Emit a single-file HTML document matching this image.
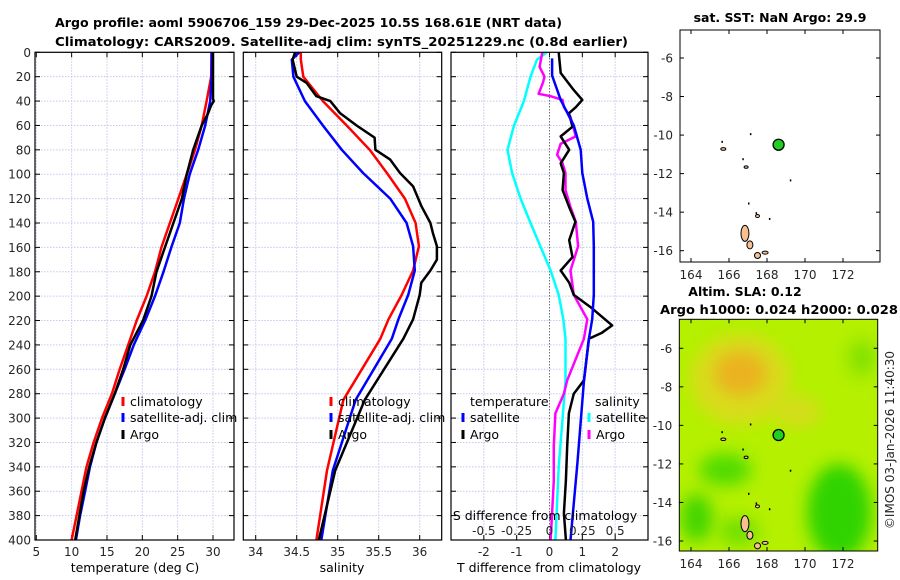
<!DOCTYPE html>
<html><head><meta charset="utf-8">
<style>
html,body{margin:0;padding:0;background:#fff;}
svg{display:block;font-family:"DejaVu Sans","Liberation Sans",sans-serif;}
.t{font-size:12.5px;font-weight:bold;fill:#000;}
.tk{font-size:12px;fill:#262626;}
.lg{font-size:12.5px;fill:#000;}
</style></head>
<body>
<svg id="chart" width="900" height="580" viewBox="0 0 900 580">
<g id="titles">
<text class="t" x="55" y="27" textLength="507" lengthAdjust="spacingAndGlyphs">Argo profile: aoml 5906706_159 29-Dec-2025 10.5S 168.61E (NRT data)</text>
<text class="t" x="55" y="46" textLength="573" lengthAdjust="spacingAndGlyphs">Climatology: CARS2009. Satellite-adj clim: synTS_20251229.nc (0.8d earlier)</text>
<text class="t" x="780" y="22" text-anchor="middle">sat. SST: NaN Argo: 29.9</text>
<text class="t" x="745" y="296" text-anchor="middle">Altim. SLA: 0.12</text>
<text class="t" x="779" y="314" text-anchor="middle" textLength="238" lengthAdjust="spacingAndGlyphs">Argo h1000: 0.024 h2000: 0.028</text>
<text class="tk" transform="translate(894,440) rotate(-90)" text-anchor="middle">©IMOS 03-Jan-2026 11:40:30</text>
</g>
<g id="plots"></g>
</svg>
<script>
// depth axis shared
const depthTicks=[0,20,40,60,80,100,120,140,160,180,200,220,240,260,280,300,320,340,360,380,400];
// Panel 1 temperature
const tTicks=[5,10,15,20,25,30];
const tDepth=[0,20,40,60,80,100,120,140,160,180,200,220,240,260,280,300,320,340,360,380,400];
const tClim=[29.8,29.75,29.1,28.4,27.45,26.3,25.1,23.9,22.7,21.8,20.6,19.2,18.0,16.8,15.7,14.3,13.1,12.1,11.4,10.7,10.0];
const tSat=[29.8,29.8,29.6,28.9,27.9,26.7,25.9,25.3,24.1,23.0,21.8,20.4,18.8,17.5,16.1,14.7,13.5,12.6,11.9,11.2,10.6];
const tArgoDepth=[0,20,38,40,44,50,60,80,100,120,140,160,180,200,220,240,260,280,300,320,340,360,380,400];
const tArgo=[30.0,30.0,30.0,30.1,29.7,29.3,28.4,27.2,26.3,25.6,24.4,23.2,22.0,21.3,20.1,18.3,17.3,16.1,14.7,13.5,12.5,11.7,11.1,10.5];
// Panel 2 salinity
const sTicks=[34,34.5,35,35.5,36];
const sTickLabels=['34','34.5','35','35.5','36'];
const sDepth=[0,6,20,40,60,80,99,120,140,159,179,199,219,235,285,343,400];
const sClim=[34.55,34.55,34.58,34.82,35.11,35.39,35.6,35.82,35.95,35.99,35.92,35.78,35.62,35.52,35.07,34.87,34.74];
const sSat=[34.53,34.44,34.46,34.6,34.82,35.05,35.31,35.64,35.84,35.92,35.94,35.86,35.74,35.66,35.22,34.94,34.8];
const sArgoDepth=[0,6,20,25,36,40,50,60,70,80,88,99,110,126,140,148,159,170,179,189,199,219,235,285,343,400];
const sArgo=[34.48,34.45,34.5,34.62,34.74,34.91,35.03,35.23,35.45,35.46,35.64,35.76,35.92,36.02,36.13,36.16,36.21,36.21,36.13,36.02,36.0,35.92,35.8,35.33,34.97,34.77];
// Panel 3 differences (T in deg C, S in psu)
const dTTicks=[-2,-1,0,1,2];
const dSTicks=[-0.5,-0.25,0,0.25,0.5];
const dSTickLabels=['-0.5','-0.25','0','0.25','0.5'];
const dSatSDepth=[0,6,20,40,60,80,99,120,140,159,179,199,219,235,269,300,340,400];
const dSatS=[-0.02,-0.095,-0.145,-0.195,-0.27,-0.32,-0.285,-0.22,-0.145,-0.07,0.008,0.07,0.105,0.122,0.122,0.1,0.07,0.045];
const dArgoSDepth=[0,12,20,25,34,36,39,45,53,69,75,84,91,99,113,127,139,159,179,199,219,235,269,280,296,323,351,378,400];
const dArgoS=[-0.055,-0.075,-0.038,-0.05,-0.083,0.008,0.1,0.11,0.16,0.2,0.085,0.058,0.1,0.122,0.122,0.16,0.2,0.218,0.16,0.185,0.288,0.262,0.135,0.11,0.045,0.033,0.033,0.02,0.008];
const dArgoTDepth=[0,17,31,39,45,50,61,69,80,91,99,113,127,139,154,168,179,189,199,209,224,230,235,269,280,296,323,351,378,400];
const dArgoT=[0.28,0.34,0.74,1.0,0.8,0.59,0.7,0.34,0.6,0.34,0.44,0.4,0.6,0.79,0.6,0.7,0.34,0.6,0.74,1.25,1.91,1.6,1.2,1.05,0.74,0.59,0.54,0.5,0.44,0.5];
const dSatTDepth=[5,19,39,60,80,99,120,139,159,179,199,219,235,269,337,400];
const dSatT=[0.08,0.08,0.34,0.74,0.95,1.0,1.15,1.33,1.35,1.35,1.35,1.3,1.2,1.05,0.85,0.64];
// Maps
const latTicks=[-6,-8,-10,-12,-14,-16];
const lonTicks=[164,166,168,170,172];
const argoLon=168.61, argoLat=-10.5;

const NS='http://www.w3.org/2000/svg';
const root=document.getElementById('plots');
function el(tag,attrs,parent){const e=document.createElementNS(NS,tag);for(const k in attrs)e.setAttribute(k,attrs[k]);(parent||root).appendChild(e);return e;}
const Y0=52.3,Y1=540;
function yD(d){return Y0+(d/400)*(Y1-Y0);}
function linScale(d0,d1,p0,p1){return v=>p0+(v-d0)/(d1-d0)*(p1-p0);}

function frame(name,x0,x1,xt,xfn,yLabels){
  const g=el('g',{});
  
  
  xt.forEach(v=>{const x=xfn(v);el('line',{x1:x,x2:x,y1:Y0,y2:Y1,stroke:'#c4c8ea','stroke-width':1,'stroke-dasharray':'1.5,1.5'},g);
    el('line',{x1:x,x2:x,y1:Y1,y2:Y1-5,stroke:'#000'},g);el('line',{x1:x,x2:x,y1:Y0,y2:Y0+5,stroke:'#000'},g);});
  depthTicks.forEach(d=>{const y=yD(d);el('line',{x1:x0,x2:x1,y1:y,y2:y,stroke:'#c4c8ea','stroke-width':1,'stroke-dasharray':'1.5,1.5'},g);
    el('line',{x1:x0,x2:x0+5,y1:y,y2:y,stroke:'#000'},g);el('line',{x1:x1,x2:x1-5,y1:y,y2:y,stroke:'#000'},g);
    if(yLabels){const t=el('text',{x:x0-4,y:y+4.5,'text-anchor':'end',class:'tk'},g);t.textContent=d;}});
  return g;
}
function curve(g,name,xs,ds,xfn,color,w){
  const pts=xs.map((v,i)=>xfn(v).toFixed(1)+','+yD(ds[i]).toFixed(1)).join(' ');
  const p=el('polyline',{points:pts,fill:'none',stroke:color,'stroke-width':w,'stroke-linejoin':'round'},g);
  
  
}
function box(g,x0,x1){el('rect',{x:x0,y:Y0,width:x1-x0,height:Y1-Y0,fill:'none',stroke:'#000','stroke-width':1.2},g);}
function label(g,x,y,txt,cls,anchor){const t=el('text',{x:x,y:y,class:cls,'text-anchor':anchor||'middle'},g);t.textContent=txt;return t;}
function legendItem(g,x,y,color,txt,name){
  const it=el('g',{},g);
  
  
  el('line',{x1:x,x2:x,y1:y-9,y2:y,stroke:color,'stroke-width':3},it);
  label(it,x+7,y,txt,'lg','start');
}

// Panel 1
const xT=linScale(5,30,36.3,213);
const g1=frame('temperature-panel',35,234,tTicks,xT,true);
curve(g1,'temperature-climatology-line',tClim,tDepth,xT,'#f00',2.5);
curve(g1,'temperature-satellite-line',tSat,tDepth,xT,'#00f',2.5);
curve(g1,'temperature-argo-line',tArgo,tArgoDepth,xT,'#000',2.5);
box(g1,35,234);
tTicks.forEach(v=>label(g1,xT(v),556,String(v),'tk'));
label(g1,135,572,'temperature (deg C)','lg');
legendItem(g1,123,406,'#f00','climatology','legend-climatology');
legendItem(g1,123,422,'#00f','satellite-adj. clim','legend-satellite');
legendItem(g1,123,439,'#000','Argo','legend-argo');

// Panel 2
const xS=linScale(34,35,255.7,337.7);
const g2=frame('salinity-panel',243.3,441.7,sTicks,xS,false);
curve(g2,'salinity-climatology-line',sClim,sDepth,xS,'#f00',2.5);
curve(g2,'salinity-satellite-line',sSat,sDepth,xS,'#00f',2.5);
curve(g2,'salinity-argo-line',sArgo,sArgoDepth,xS,'#000',2.5);
box(g2,243.3,441.7);
sTicks.forEach((v,i)=>label(g2,xS(v),556,sTickLabels[i],'tk'));
label(g2,342,572,'salinity','lg');
legendItem(g2,331,406,'#f00','climatology','legend-climatology-2');
legendItem(g2,331,422,'#00f','satellite-adj. clim','legend-satellite-2');
legendItem(g2,331,439,'#000','Argo','legend-argo-2');

// Panel 3
const xDT=linScale(-3,3,451,648);
const xDS=v=>xDT(v*4);
const g3=frame('difference-panel',451,648,dTTicks,xDT,false);
el('line',{x1:xDT(0),x2:xDT(0),y1:Y0,y2:Y1,stroke:'#444','stroke-dasharray':'1,2'},g3);
curve(g3,'salinity-satellite-diff-line',dSatS,dSatSDepth,xDS,'#0ff',2.5);
curve(g3,'salinity-argo-diff-line',dArgoS,dArgoSDepth,xDS,'#f0f',2.5);
curve(g3,'temperature-argo-diff-line',dArgoT,dArgoTDepth,xDT,'#000',2.5);
curve(g3,'temperature-satellite-diff-line',dSatT,dSatTDepth,xDT,'#00f',2.5);
box(g3,451,648);
dTTicks.forEach(v=>label(g3,xDT(v),556,String(v),'tk'));
label(g3,549,572,'T difference from climatology','lg');
label(g3,545,520,'S difference from climatology','lg');
dSTicks.forEach((v,i)=>label(g3,xDS(v),535,dSTickLabels[i],'tk'));
label(g3,470,406,'temperature','lg','start');
legendItem(g3,463,422,'#00f','satellite','legend-t-satellite');
legendItem(g3,463,439,'#000','Argo','legend-t-argo');
label(g3,595,406,'salinity','lg','start');
legendItem(g3,589,422,'#0ff','satellite','legend-s-satellite');
legendItem(g3,589,439,'#f0f','Argo','legend-s-argo');

// Maps
function map(name,x0,x1,y0,y1,lat0y,lon164x,heat){
  const g=el('g',{});
  
  
  const yL=v=>lat0y+(-6-v)*19.27;
  const xL=v=>lon164x+(v-164)*19.0;
  const id=name+'-clip';
  const cp=el('clipPath',{id:id},g);el('rect',{x:x0,y:y0,width:x1-x0,height:y1-y0},cp);
  const hg=el('g',{'clip-path':'url(#'+id+')'},g);
  if(heat){
    el('rect',{x:x0,y:y0,width:x1-x0,height:y1-y0,fill:'#b4f000'},hg);
    el('ellipse',{cx:xL(166.6),cy:yL(-7.6),rx:50,ry:45,fill:'#e0d820',opacity:0.85,filter:'url(#blur)'},hg);
    el('ellipse',{cx:xL(166.6),cy:yL(-7.3),rx:26,ry:22,fill:'#f0a820',opacity:0.8,filter:'url(#blur)'},hg);
    el('ellipse',{cx:xL(169.6),cy:yL(-9.3),rx:24,ry:16,fill:'#dcd820',opacity:0.8,filter:'url(#blur)'},hg);
    el('ellipse',{cx:xL(171.8),cy:yL(-14.5),rx:32,ry:48,fill:'#20d000',opacity:0.9,filter:'url(#blur)'},hg);
    el('ellipse',{cx:xL(164.3),cy:yL(-14.8),rx:16,ry:24,fill:'#30d000',opacity:0.85,filter:'url(#blur)'},hg);
    el('ellipse',{cx:xL(165.8),cy:yL(-12.3),rx:26,ry:16,fill:'#40d800',opacity:0.85,filter:'url(#blur)'},hg);
    el('ellipse',{cx:xL(166.5),cy:yL(-15.5),rx:20,ry:14,fill:'#60dc00',opacity:0.8,filter:'url(#blur)'},hg);
    el('ellipse',{cx:xL(173),cy:yL(-6.5),rx:14,ry:18,fill:'#70dc00',opacity:0.7,filter:'url(#blur)'},hg);
  }else{
    el('rect',{x:x0,y:y0,width:x1-x0,height:y1-y0,fill:'#fff'},hg);
  }
  // islands
  const isl=[[166.84,-15.1,4,8],[167.1,-15.7,3,4],[167.5,-16.25,3,3],[167.9,-16.1,3,1.5],[167.5,-14.2,2,1.5],[165.7,-10.72,2.5,1.3],[166.9,-11.66,2,1.2]];
  isl.forEach(a=>el('ellipse',{cx:xL(a[0]),cy:yL(a[1]),rx:a[2],ry:a[3],fill:'#f8c090',stroke:'#000','stroke-width':1},hg));
  [[165.6,-10.3],[166.7,-11.2],[167.0,-13.5],[167.4,-14.0],[168.1,-14.3],[169.2,-12.3],[167.1,-9.9]].forEach(a=>el('rect',{x:xL(a[0]),y:yL(a[1]),width:1.5,height:2,fill:'#000'},hg));
  const c=el('circle',{cx:xL(argoLon),cy:yL(argoLat),r:5.5,fill:'#20d020',stroke:'#000','stroke-width':1.3},g);
  
  
  el('rect',{x:x0,y:y0,width:x1-x0,height:y1-y0,fill:'none',stroke:'#000','stroke-width':1},g);
  latTicks.forEach(v=>{const y=yL(v);el('line',{x1:x0,x2:x0+4,y1:y,y2:y,stroke:'#000'},g);el('line',{x1:x1,x2:x1-4,y1:y,y2:y,stroke:'#000'},g);label(g,x0-7,y+4.5,String(v),'tk','end');});
  lonTicks.forEach(v=>{const x=xL(v);el('line',{x1:x,x2:x,y1:y1,y2:y1-4,stroke:'#000'},g);el('line',{x1:x,x2:x,y1:y0,y2:y0+4,stroke:'#000'},g);label(g,x,y1+17,String(v),'tk');});
}
const defs=el('defs',{});
const f=el('filter',{id:'blur',x:'-50%',y:'-50%',width:'200%',height:'200%'},defs);
el('feGaussianBlur',{stdDeviation:8},f);
map('sst-map',680,880,30,262,58,691,false);
map('sla-map',679.3,877.7,319.3,551,348.3,691,true);
</script>
</body></html>
